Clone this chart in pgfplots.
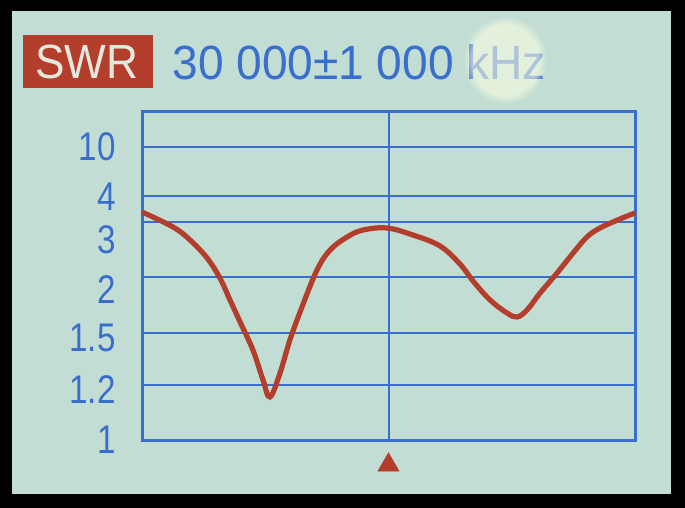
\documentclass[border=0pt]{standalone}
\usepackage{fontspec}
\setmainfont{Liberation Sans}
\usepackage{pgfplots}
\pgfplotsset{compat=1.18}
\usetikzlibrary{fadings}
\definecolor{scr}{RGB}{194,222,212}
\definecolor{lcdblue}{RGB}{58,110,205}
\definecolor{lcdred}{RGB}{180,62,44}
\definecolor{lcdwhite}{RGB}{226,232,222}
\definecolor{glare}{RGB}{250,252,225}
\begin{document}
\begin{tikzpicture}[x=0.5pt,y=-0.5pt]
\fill[black] (0,0) rectangle (685,508);
\fill[scr] (12,11) rectangle (671,494);
\fill[lcdred] (23,35) rectangle (153,88);
\node[anchor=center, text=lcdwhite, inner sep=0pt, xscale=0.92, font=\fontsize{24}{24}\selectfont] at (87,62) {SWR};
\node[anchor=west, text=lcdblue, inner sep=0pt, xscale=0.96, font=\fontsize{24}{24}\selectfont] at (172,62) {30 000±1 000 kHz};
\fill[glare, opacity=0.6, path fading=circle with fuzzy edge 20 percent] (505,60) ellipse [x radius=42, y radius=44];
\begin{axis}[
  at={(71pt,-220pt)}, anchor=south west,
  scale only axis, width=246.5pt, height=164pt,
  xmin=29000, xmax=31000, ymin=0, ymax=328,
  clip=false, scaled x ticks=false,
  xtick={30000}, xticklabels={},
  ytick={0,55,107,163,218,244,293},
  yticklabels={},
  extra y ticks={0,50,102,150,200,243,293},
  extra y tick labels={1,1.2,1.5,2,3,4,10},
  extra y tick style={grid=none},
  xmajorgrids, ymajorgrids,
  major tick length=0pt,
  axis line style={lcdblue, line width=1.5pt},
  grid style={lcdblue, line width=1pt},
  /pgf/number format/assume math mode=true,
  yticklabel style={anchor=east, inner sep=0pt, xshift=-13pt, text=lcdblue, font=\fontsize{20}{20}\selectfont, xscale=0.83},
]
\addplot[lcdred, line width=2.6pt, smooth, tension=0.6] coordinates {
(29000,228) (29126,213) (29195,200) (29264,182) (29316,162) (29357,140) (29398,118)
(29450,90) (29491,60) (29519,43) (29560,67) (29600,100) (29649,133) (29710,170)
(29763,190) (29832,203) (29897,210) (29994,212) (30099,205) (30209,194) (30290,176)
(30343,159) (30412,140) (30481,127) (30521,123) (30562,130) (30615,147) (30684,167)
(30749,187) (30805,203) (30858,212) (30939,221) (31000,227)
};
\addplot[only marks, mark=triangle*, mark size=6pt, lcdred, mark options={fill=lcdred, draw=lcdred}] coordinates {(30000,-25)};
\end{axis}
\end{tikzpicture}
\end{document}
